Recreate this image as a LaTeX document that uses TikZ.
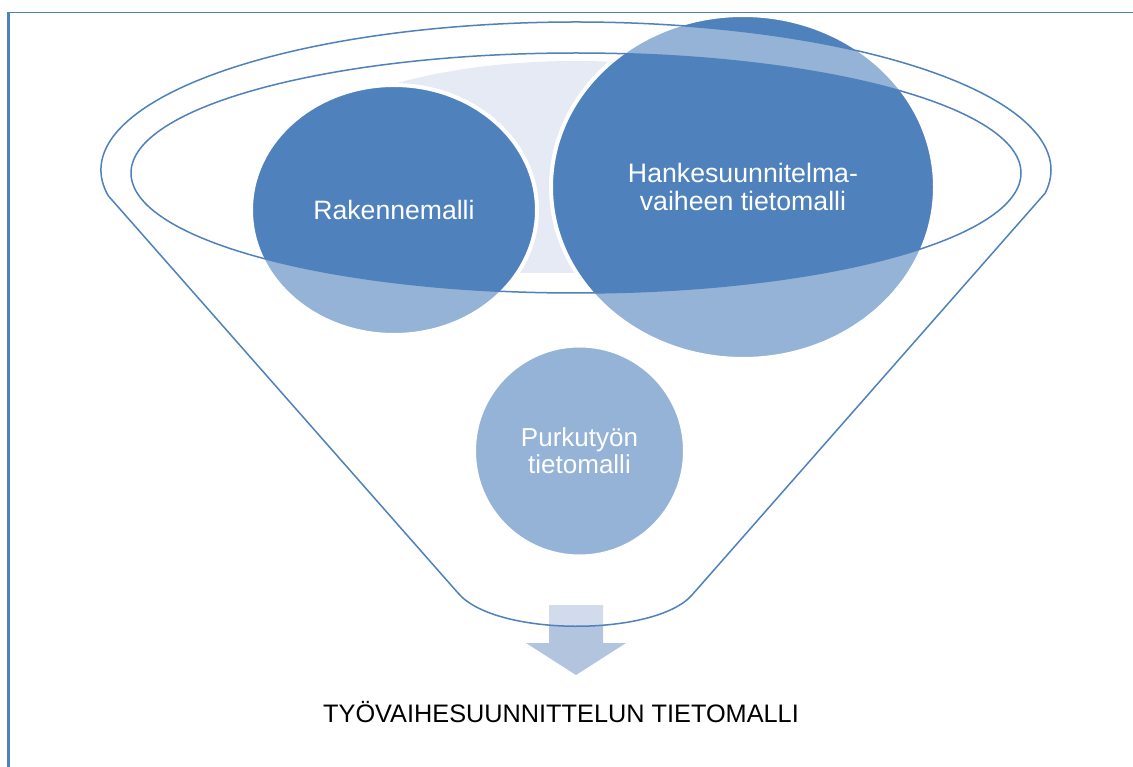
\documentclass[tikz,border=0pt]{standalone}
\usepackage{fontspec}
\setmainfont{Liberation Sans}
\usetikzlibrary{shapes.geometric}
\definecolor{dk}{RGB}{79,129,189}
\definecolor{lbg}{RGB}{229,234,244}
\definecolor{arr}{RGB}{179,196,223}
\begin{document}
\begin{tikzpicture}[x=1pt,y=-1pt,
  ball/.style={ellipse, fill=dk, draw=white, line width=4pt, inner sep=0pt, text=white, align=center},
  funnelline/.style={draw=dk, line width=1.5pt, line join=round},
  frameline/.style={draw=dk}]
\useasboundingbox (0,0) rectangle (1133,767);
\fill[white] (0,0) rectangle (1133,767);
% frame
\coordinate (fTL) at (8.5,12.3);
\coordinate (fTR) at (1133,12.3);
\coordinate (fBL) at (8.5,767);
\draw[frameline, line width=1.5pt] (fTL) -- (fTR);
\draw[frameline, line width=2.6pt] (fTL) -- (fBL);
% light background inside funnel mouth
\begin{scope}
  \clip (0,0) rectangle (1133,273);
  \fill[lbg] (576,173) ellipse[x radius=300pt, y radius=112pt];
\end{scope}
% arrow
\fill[arr] (549,605) -- (603,605) -- (603,643) -- (626,643) -- (576,675) -- (526,643) -- (549,643) -- cycle;
% circles
\node[ball, minimum width=286pt, minimum height=250pt, font=\fontsize{26.6}{30}\selectfont] (rak) at (394,210) {Rakennemalli};
\node[ball, minimum width=384pt, minimum height=344pt, font=\fontsize{26.7}{28.5}\selectfont] (hank) at (743,187) {Hankesuunnitelma-\\vaiheen tietomalli};
\node[ball, minimum width=211pt, minimum height=211pt, font=\fontsize{26}{27}\selectfont] (purk) at (579.5,451) {Purkutyön\\tietomalli};
% translucent funnel body
\coordinate (oc) at (576,170);
\coordinate (ic) at (576,173);
\coordinate (bR) at (692,595);
\coordinate (bL) at (458,593);
\fill[white, fill opacity=0.4, even odd rule]
  (oc) ++(190:475pt and 148pt) arc[start angle=190, end angle=-9, x radius=475pt, y radius=148pt]
  -- (bR) .. controls (655,637) and (495,637) .. (bL) -- cycle
  (ic) ellipse[x radius=445pt, y radius=120pt];
% funnel outlines
\draw[funnelline]
  (oc) ++(190:475pt and 148pt) arc[start angle=190, end angle=-9, x radius=475pt, y radius=148pt]
  -- (bR) .. controls (655,637) and (495,637) .. (bL) -- cycle;
\draw[funnelline] (ic) ellipse[x radius=445pt, y radius=120pt];
% caption
\node[anchor=base, font=\fontsize{25.3}{30}\selectfont] (cap) at (561,722) {TYÖVAIHESUUNNITTELUN TIETOMALLI};
\end{tikzpicture}
\end{document}
